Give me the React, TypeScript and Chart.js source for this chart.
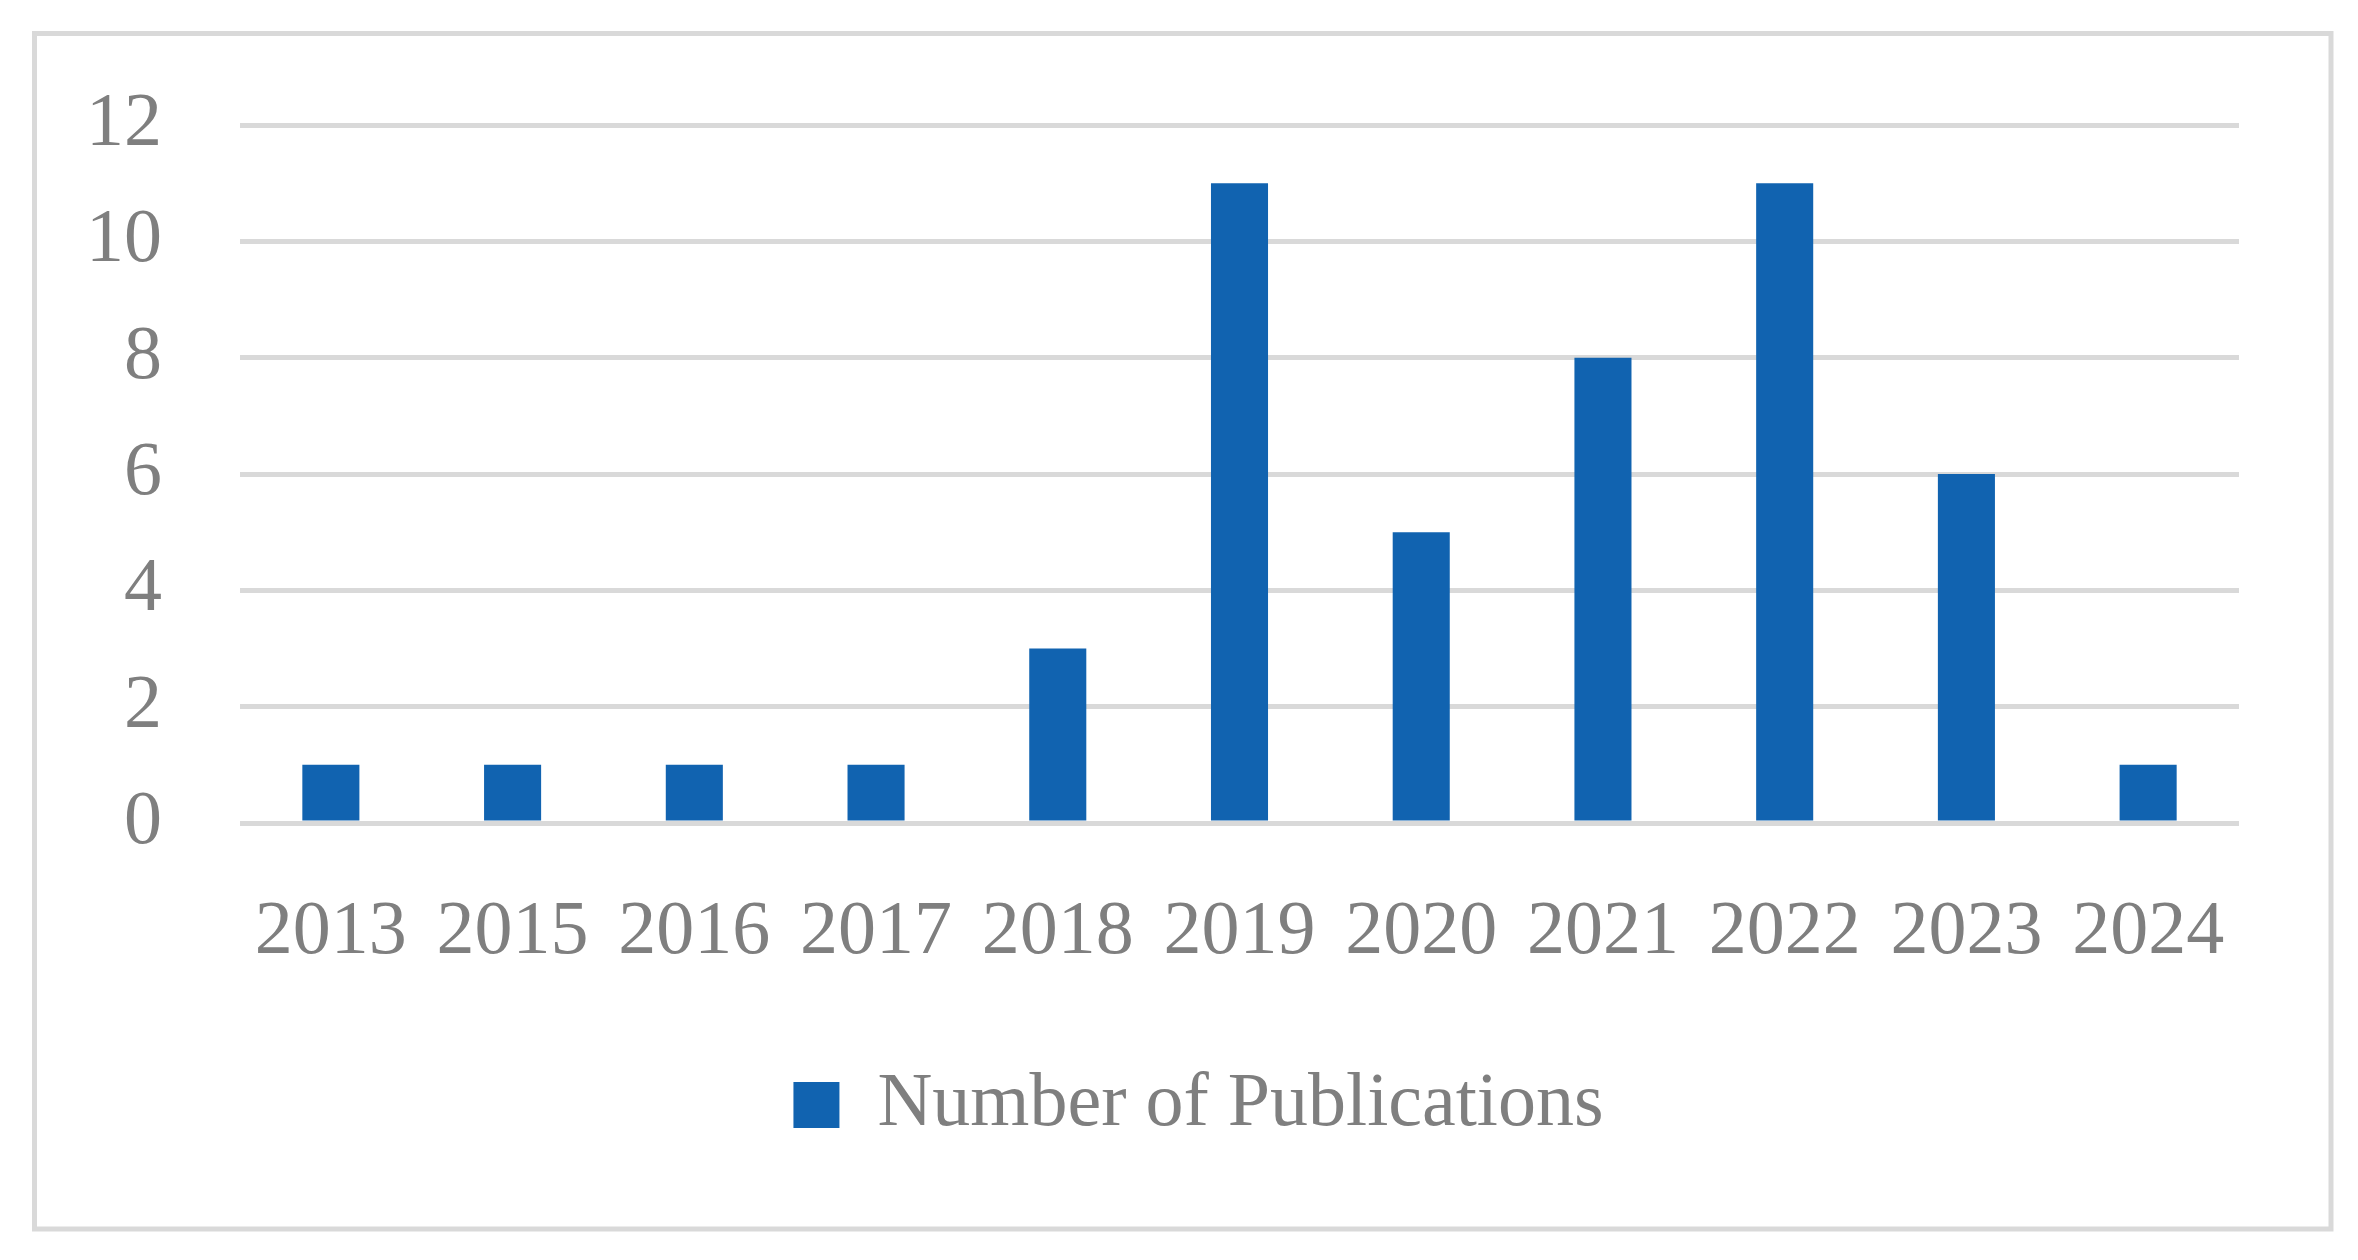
import React, { useEffect, useRef } from "react";
import { Chart, registerables } from "chart.js";

Chart.register(...registerables);

const years = ["2013", "2015", "2016", "2017", "2018", "2019", "2020", "2021", "2022", "2023", "2024"];
const publications = [1, 1, 1, 1, 3, 11, 5, 8, 11, 6, 1];
const seriesLabel = "Number of Publications";
const yMax = 12;
const yStep = 2;

const GRAY_TEXT = "#7f7f7f";
const GRID = "#d9d9d9";
const BAR = "#1163b0";
const FONT = "'Liberation Serif', 'Times New Roman', serif";
const LEGEND_SHIFT = 79;

const framePlugin = {
  id: "frame",
  afterLayout(chart: any) {
    const lg = chart.legend;
    if (lg) {
      lg.left += LEGEND_SHIFT;
      lg.right += LEGEND_SHIFT;
    }
  },
  beforeDraw(chart: any) {
    const { ctx, width, height } = chart;
    ctx.save();
    ctx.fillStyle = "#ffffff";
    ctx.fillRect(0, 0, width, height);
    ctx.strokeStyle = GRID;
    ctx.lineWidth = 5;
    ctx.strokeRect(34.5, 33.5, 2296.5, 1195.5);
    ctx.restore();
  },
};

export default function App() {
  const ref = useRef<HTMLCanvasElement | null>(null);

  useEffect(() => {
    if (!ref.current) return;
    const chart = new Chart(ref.current, {
      type: "bar",
      data: {
        labels: years,
        datasets: [
          {
            label: seriesLabel,
            data: publications,
            backgroundColor: BAR,
            borderWidth: 0,
            categoryPercentage: 1,
            barPercentage: 0.314,
          },
        ],
      },
      options: {
        animation: false,
        responsive: false,
        maintainAspectRatio: false,
        layout: { padding: { left: 0, right: 119, top: 125, bottom: 107 } },
        plugins: {
          legend: {
            display: true,
            position: "bottom",
            labels: {
              color: GRAY_TEXT,
              font: { family: FONT, size: 76 },
              boxWidth: 46,
              boxHeight: 46,
              padding: 20,
            },
          },
          tooltip: { enabled: false },
          title: { display: false },
        },
        scales: {
          x: {
            grid: { display: false },
            border: { display: false },
            ticks: {
              color: GRAY_TEXT,
              font: { family: FONT, size: 76 },
              padding: 56,
              maxRotation: 0,
              autoSkip: false,
            },
            afterFit: (s: any) => {
              s.height = 224;
            },
          },
          y: {
            min: 0,
            max: yMax,
            grid: { color: GRID, lineWidth: 5, drawTicks: false },
            border: { display: false },
            ticks: {
              stepSize: yStep,
              color: GRAY_TEXT,
              font: { family: FONT, size: 76 },
              padding: 78,
            },
            afterFit: (s: any) => {
              s.width = 240;
            },
          },
        },
      },
      plugins: [framePlugin],
    });
    return () => chart.destroy();
  }, []);

  return (
    <div style={{ position: "absolute", left: 0, top: 0, width: 2358, height: 1260 }}>
      <canvas ref={ref} width={2358} height={1260} style={{ display: "block" }} />
    </div>
  );
}
